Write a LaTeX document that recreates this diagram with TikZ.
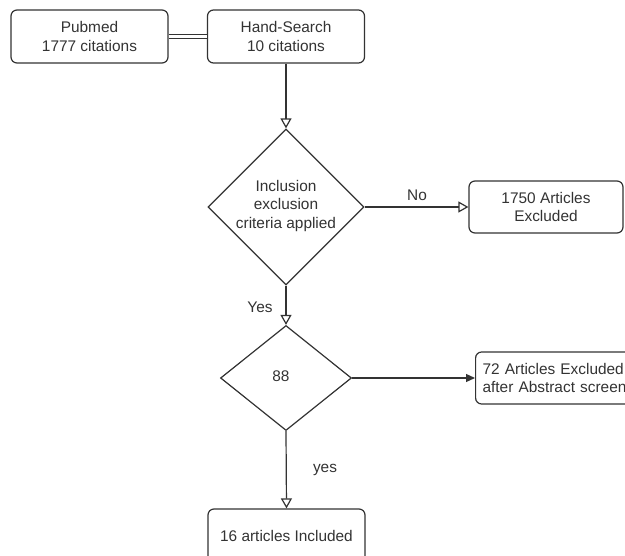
\documentclass[tikz,border=0pt]{standalone}
\usepackage{fontspec}
\setmainfont{Liberation Sans}
\usetikzlibrary{shapes.geometric,arrows.meta}
\begin{document}
\begin{tikzpicture}[x=1pt,y=-1pt,
  every node/.style={text=black!80, font=\fontsize{15.4}{18.5}\selectfont},
  box/.style={draw=black!80, line width=1.2pt, rounded corners=6pt, minimum width=157pt, minimum height=53pt, align=center, inner sep=0pt},
  dia/.style={draw=black!80, line width=1.2pt, diamond, inner sep=0pt, aspect=1},
  conn/.style={draw=black!80, line width=1.2pt},
  openarr/.style={conn, -{Triangle[open, length=10pt, width=11pt]}},
  fillarr/.style={conn, -{Triangle[length=9pt, width=8pt]}},
  lbl/.style={inner sep=0pt}
]
\clip (0,0) rectangle (625,556);
\fill[white] (0,0) rectangle (625,556);
\node[box] (pub) at (89.5,36.5) {Pubmed\\1777 citations};
\node[box] (hand) at (286,36.5) {Hand-Search\\10 citations};
\node[dia, minimum width=156pt, minimum height=156pt] (d1) at (286,207) {};
\node[align=center, inner sep=0pt] (d1t) at (286,206) {Inclusion\\exclusion\\criteria applied};
\node[box, minimum width=154pt, minimum height=52pt] (ex1) at (546,207) {1750 Articles\\Excluded};
\node[dia, minimum width=131pt, minimum height=105pt] (d2) at (286,378) {};
\node[inner sep=0pt] (d2t) at (281,376) {88};
\node[box, anchor=west, minimum width=200pt, minimum height=52pt, align=left, text width=186pt, inner xsep=7pt] (ex2) at (475,378) {72 Articles Excluded\\after Abstract screen};
\node[box, minimum height=54pt] (inc) at (286.5,536) {16 articles Included};
\draw[conn, double=white, double distance=2.4pt, line width=0.9pt] (pub.east) -- (hand.west);
\draw[openarr] (hand.south) -- (d1.north);
\draw[openarr] (d1.east) -- (ex1.west);
\draw[openarr] (d1.south) -- (d2.north);
\draw[fillarr] (d2.east) -- (ex2.west);
\draw[openarr] (d2.south) -- (inc.north);
\node[lbl] (no) at (417,195) {No};
\node[lbl] (yes1) at (260,307) {Yes};
\node[lbl] (yes2) at (325,470) {yes};
\end{tikzpicture}
\end{document}
